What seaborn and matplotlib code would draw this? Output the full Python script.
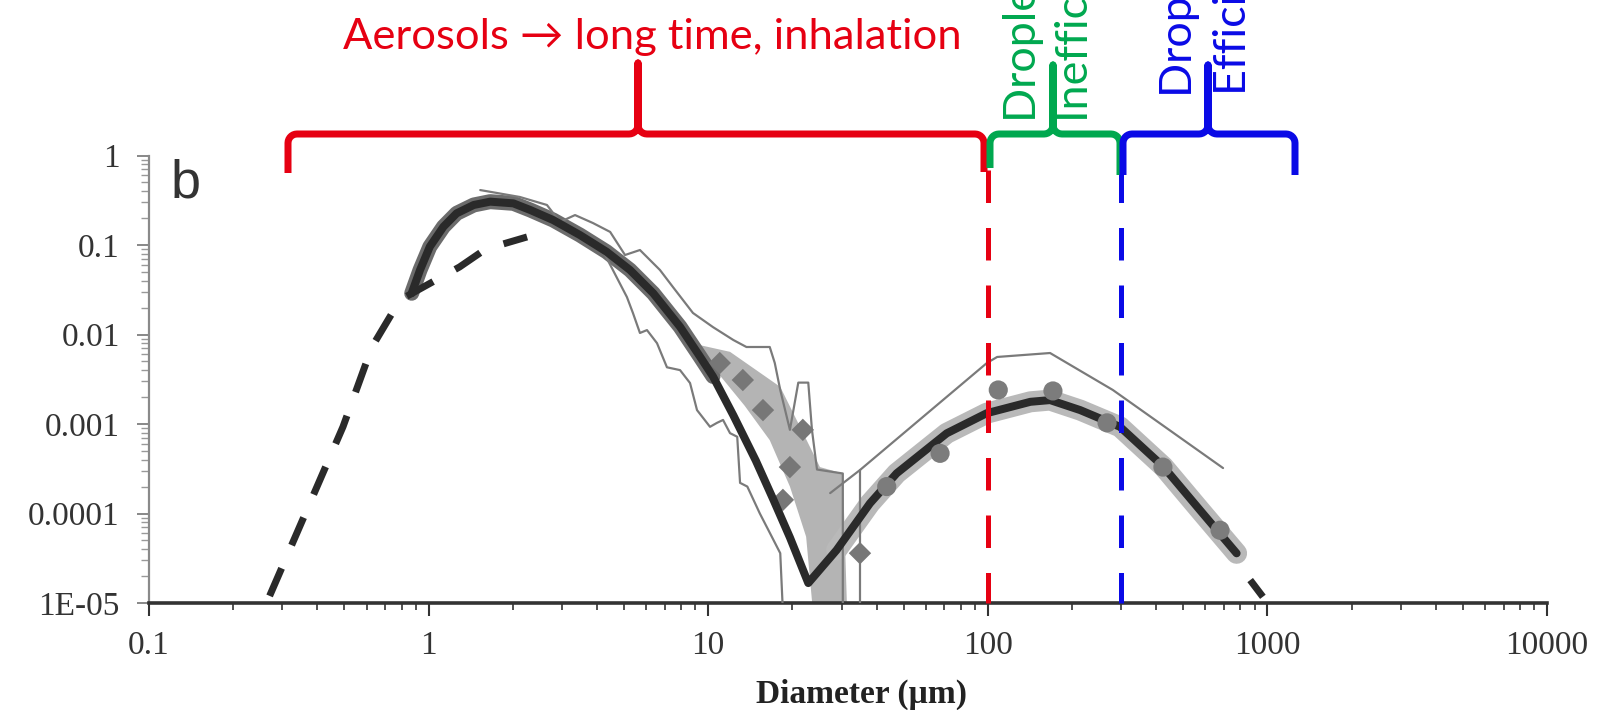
import matplotlib
matplotlib.use("Agg")
import matplotlib.pyplot as plt
import seaborn as sns
import pandas as pd
from matplotlib.lines import Line2D
from matplotlib.ticker import FixedLocator, FixedFormatter, LogLocator, NullFormatter

# ---------------- data ----------------
# thick black fitted curve (bimodal)
fit_x = [0.87, 0.932, 1.01, 1.13, 1.26, 1.45, 1.66, 2.01, 2.31, 2.79, 3.48, 4.33, 5.25, 6.36,
         7.93, 9.35, 10.4, 12.3, 14.8, 17.1, 19.6, 22.8,
         28.8, 37.9, 47.2, 71.3, 99.1, 142, 167, 214, 297, 425, 574, 776]
fit_y = [0.0289, 0.0526, 0.0957, 0.16, 0.226, 0.28, 0.305, 0.292, 0.246, 0.19, 0.129, 0.0841,
         0.0526, 0.0289, 0.0122, 0.00565, 0.0034, 0.00125, 3.9e-4, 1.43e-4, 5.4e-5, 1.67e-5,
         3.91e-5, 1.30e-4, 2.81e-4, 7.87e-4, 1.32e-3, 1.77e-3, 1.85e-3, 1.43e-3, 9.3e-4,
         3.33e-4, 1.09e-4, 3.59e-5]
# black dashed fit (rising flank of mode 1, tail of mode 2)
dash_left_x = [0.27, 0.494, 0.627, 0.79, 1.29, 1.6, 2.25]
dash_left_y = [1.2e-5, 9.3e-4, 7.25e-3, 0.0243, 0.0568, 0.09, 0.123]
dash_right_x = [776, 867, 964, 1010]
dash_right_y = [3.6e-5, 1.81e-5, 1.17e-5, 9e-6]
# thin grey measured spectra
specA_x = [1.53, 2.12, 2.65, 2.95, 3.34, 3.87, 4.46, 5.04, 5.70, 6.72, 7.48, 8.82, 10.4, 12.3, 13.7,
           16.6, 17.3, 18.1, 19.6, 21.0, 22.8, 23.5, 24.5, 30.3, 30.3]
specA_y = [0.411, 0.344, 0.280, 0.181, 0.216, 0.176, 0.140, 0.0773, 0.0879, 0.0526, 0.0339, 0.0174,
           0.0121, 0.00868, 0.00725, 0.00725, 0.00481, 0.0024, 8.6e-4, 2.9e-3, 2.9e-3, 8.6e-4,
           3.1e-4, 2.8e-4, 8e-6]
specB_x = [4.10, 5.12, 5.38, 5.70, 6.04, 6.56, 7.12, 7.93, 8.61, 9.12, 10.15, 10.75, 11.3, 11.97,
           12.7, 13.0, 13.8, 15.3, 16.6, 18.1, 18.5]
specB_y = [0.1, 0.0262, 0.0174, 0.0104, 0.0112, 0.0080, 0.0043, 0.0040, 0.00287, 0.00143, 9.3e-4,
           1.03e-3, 1.11e-3, 7.9e-4, 7.2e-4, 2.2e-4, 2.0e-4, 1.0e-4, 6.1e-5, 3.6e-5, 8e-6]
specC_x = [27.3, 34.9, 99.3, 108, 167, 280, 694]
specC_y = [1.69e-4, 3.06e-4, 4.81e-3, 5.61e-3, 6.21e-3, 2.40e-3, 3.22e-4]
specD_x = [34.9, 34.9]
specD_y = [8e-6, 3.06e-4]
# light grey spread band (mode 1 falling flank)
band_x = [9.35, 11.97, 18.1, 25.1, 30.3, 31.4, 23.7, 22.4, 19.6, 16.6, 13.5, 11.0]
band_y = [7.6e-3, 6.4e-3, 2.6e-3, 3.3e-4, 2.8e-4, 8e-6, 8e-6, 5.5e-5, 2.0e-4, 6.6e-4, 1.6e-3, 3.5e-3]
# grey data markers
diam_x = [11.0, 13.3, 15.7, 21.8, 19.6, 18.5, 34.9]
diam_y = [4.8e-3, 3.1e-3, 1.43e-3, 8.6e-4, 3.3e-4, 1.42e-4, 3.6e-5]
circ_x = [43.5, 67.5, 109, 171, 267, 423, 677]
circ_y = [2.0e-4, 4.7e-4, 2.4e-3, 2.34e-3, 1.03e-3, 3.3e-4, 6.5e-5]
# size-class boundaries
boundary_x = [100, 300]
boundary_colors = ["#e60012", "#0a0ae6"]
boundary_top = 0.69
# axes ticks / labels
x_ticks = [0.1, 1, 10, 100, 1000, 10000]
x_tick_labels = ["0.1", "1", "10", "100", "1000", "10000"]
y_ticks = [1e-5, 1e-4, 1e-3, 1e-2, 1e-1, 1]
y_tick_labels = ["1E-05", "0.0001", "0.001", "0.01", "0.1", "1"]
x_label = "Diameter (µm)"
panel_label = "b"
red_text = "Aerosols → long time, inhalation"
green_lines = ["Droplets → short time,", "Inefficient inhalation"]
blue_lines = ["Droplets → fall quickly,", "Efficient deposition"]

RED, GREEN, BLUE = "#e60012", "#00a84f", "#0a0ae6"

# ---------------- figure ----------------
sns.set_theme(style="white")
plt.rcParams["font.family"] = ["Liberation Serif", "DejaVu Serif"]

W, H = 1599, 710
fig = plt.figure(figsize=(W / 100, H / 100), dpi=100)
ax = fig.add_axes([149 / W, 1 - 603 / H, (1547 - 149) / W, (603 - 155.5) / H])
ax.set_xscale("log")
ax.set_yscale("log")

PT = 0.72  # points per pixel


def line(x, y, **kw):
    df = pd.DataFrame({"x": x, "y": y})
    sns.lineplot(data=df, x="x", y="y", ax=ax, sort=False, estimator=None, legend=False, **kw)


# band
ax.fill(band_x, band_y, color="#b4b4b4", lw=0, zorder=1)
# halos
line(fit_x[:17], fit_y[:17], color="#6c6c6c", linewidth=15 * PT, zorder=2, solid_capstyle="round")
line(fit_x[22:], fit_y[22:], color="#b9b9b9", linewidth=21 * PT, zorder=2, solid_capstyle="round")
# thin spectra
for sx, sy in [(specA_x, specA_y), (specB_x, specB_y), (specC_x, specC_y), (specD_x, specD_y)]:
    line(sx, sy, color="#7a7a7a", linewidth=2.2 * PT, zorder=3)
# thick fit
line(fit_x, fit_y, color="#2a2a2a", linewidth=8 * PT, zorder=5, solid_capstyle="round")
# dashed fit
line(dash_left_x, dash_left_y, color="#2a2a2a", linewidth=7 * PT, zorder=6,
     linestyle=(0, (4.3, 3.6)))
line(dash_right_x, dash_right_y, color="#2a2a2a", linewidth=7 * PT, zorder=6,
     linestyle=(3.0, (3.0, 4.3)))
# markers
sns.scatterplot(x=diam_x, y=diam_y, ax=ax, marker="D", s=130, color="#777777", edgecolor="none",
                zorder=4, legend=False)
sns.scatterplot(x=circ_x, y=circ_y, ax=ax, marker="o", s=190, color="#7c7c7c", edgecolor="none",
                zorder=5.5, legend=False)
# boundaries
for bx, bc in zip(boundary_x, boundary_colors):
    ax.plot([bx, bx], [boundary_top, 1e-5], color=bc, lw=5 * PT, linestyle=(0, (6.5, 5.0)),
            zorder=7, clip_on=False)

ax.set_xlim(0.1, 10000)
ax.set_ylim(1e-5, 1)

ax.xaxis.set_major_locator(FixedLocator(x_ticks))
ax.xaxis.set_major_formatter(FixedFormatter(x_tick_labels))
ax.xaxis.set_minor_locator(LogLocator(base=10, subs=range(2, 10)))
ax.xaxis.set_minor_formatter(NullFormatter())
ax.yaxis.set_major_locator(FixedLocator(y_ticks))
ax.yaxis.set_major_formatter(FixedFormatter(y_tick_labels))
ax.yaxis.set_minor_locator(LogLocator(base=10, subs=range(2, 10)))
ax.yaxis.set_minor_formatter(NullFormatter())

ax.tick_params(axis="x", which="major", direction="out", length=9, width=1.5, color="#333",
               labelsize=24, pad=11, labelcolor="#333", bottom=True)
ax.tick_params(axis="x", which="minor", direction="out", length=5, width=1.2, color="#333", bottom=True)
ax.tick_params(axis="y", which="major", direction="out", length=9, width=1.4, color="#888",
               labelsize=24, pad=12, labelcolor="#333", left=True)
ax.tick_params(axis="y", which="minor", direction="out", length=6, width=1.0, color="#999", left=True)

for s in ["top", "right"]:
    ax.spines[s].set_visible(False)
ax.spines["left"].set_color("#8a8a8a")
ax.spines["left"].set_linewidth(1.6)
ax.spines["bottom"].set_color("#333333")
ax.spines["bottom"].set_linewidth(2.6)
ax.grid(False)
ax.set_ylabel("")
ax.set_xlabel(x_label, fontsize=24, fontweight="bold", color="#222")
ax.xaxis.set_label_coords((861 - 149) / (1547 - 149), -(694 - 603) / (603 - 155.5))
ax.xaxis.label.set_va("center")

# panel letter
fig.text(171 / W, 1 - 197 / H, panel_label, fontsize=39, color="#333",
         family=["Liberation Sans", "DejaVu Sans"], ha="left", va="baseline")


# ---------------- braces & annotations (figure pixel layout) ----------------
def fxy(px, py):
    return px / W, 1 - py / H


def brace(x0, x1, xt, color, ybar=134, yend0=173, yend1=170, ytip=63, r=9):
    import numpy as np
    pts = [(x0, yend0), (x0, ybar + r)]
    th = np.linspace(np.pi, np.pi / 2, 8)
    pts += [((x0 + r) + r * np.cos(t), (ybar + r) - r * np.sin(t)) for t in th]
    pts += [(xt - r, ybar)]
    th = np.linspace(1.5 * np.pi, 2 * np.pi, 8)
    pts += [((xt - r) + r * np.cos(t), (ybar - r) - r * np.sin(t)) for t in th]
    pts += [(xt, ytip), (xt, ybar - r)]
    th = np.linspace(np.pi, 1.5 * np.pi, 8)
    pts += [((xt + r) + r * np.cos(t), (ybar - r) - r * np.sin(t)) for t in th]
    pts += [(x1 - r, ybar)]
    th = np.linspace(0.5 * np.pi, 0, 8)
    pts += [((x1 - r) + r * np.cos(t), (ybar + r) - r * np.sin(t)) for t in th]
    pts += [(x1, yend1)]
    fx = [p[0] / W for p in pts]
    fy = [1 - p[1] / H for p in pts]
    fig.add_artist(Line2D(fx, fy, color=color, lw=7 * PT, solid_joinstyle="round",
                          solid_capstyle="butt", transform=fig.transFigure))


brace(288, 984, 638, RED, yend0=173, yend1=172)
brace(990, 1120, 1053, GREEN, ytip=65, yend0=168, yend1=175)
brace(1123, 1295, 1208, BLUE, ytip=65, yend0=175, yend1=175)

SANS = ["Lato", "DejaVu Sans"]
t = fig.text(*fxy(652, 49), red_text, fontsize=30, color=RED, family=SANS, ha="center",
             va="baseline")
fig.canvas.draw()
w = t.get_window_extent().width
fs = 30 * 617 / w
t.set_fontsize(fs)

for (px, py), s, c in [((1024, 122), green_lines[0], GREEN), ((1075, 122), green_lines[1], GREEN),
                       ((1180, 97), blue_lines[0], BLUE), ((1233, 95), blue_lines[1], BLUE)]:
    fig.text(*fxy(px, py), s, fontsize=fs * 1.03, color=c, family=SANS, rotation=90, ha="center",
             va="bottom")

fig.savefig("out.png", dpi=100, facecolor="white")
